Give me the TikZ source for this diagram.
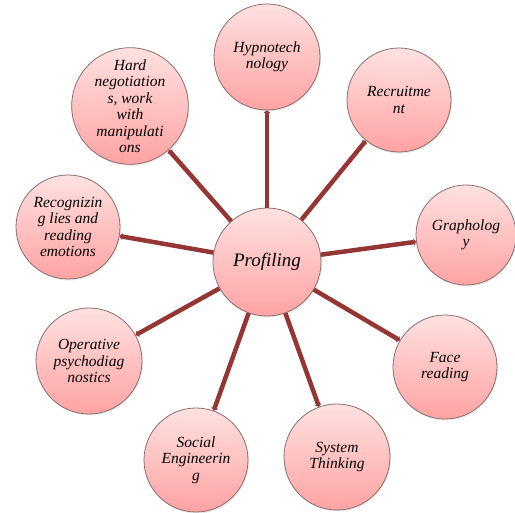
\documentclass[tikz,border=0pt]{standalone}
\usepackage{fontspec}
\setmainfont{Liberation Serif}
\usepackage{tikz}
\usetikzlibrary{arrows.meta,shadows}
\definecolor{spoke}{HTML}{943634}
\definecolor{rim}{HTML}{8A6E6E}
\definecolor{pinktop}{HTML}{FFE1E1}
\definecolor{pinkbot}{HTML}{FFA3A3}
\begin{document}
\begin{tikzpicture}[x=1pt,y=-1pt,
    bubble/.style={circle,draw=rim,line width=0.8pt,top color=pinktop,bottom color=pinkbot,
        drop shadow={opacity=0.18,shadow xshift=1pt,shadow yshift=-1.5pt},
        inner sep=0pt,minimum size=104pt,align=center,
        font=\fontsize{15.5}{16.5}\selectfont\itshape},
    hub/.style={bubble,minimum size=108pt,font=\fontsize{19}{22}\selectfont\itshape},
    link/.style={spoke,line width=4.5pt,-{Triangle[width=7pt,length=2.5pt]}}]
    \useasboundingbox (0,0) rectangle (515,513);
    \node[hub] (prof) at (267,262) {Profiling};
    \node[bubble,minimum size=106pt] (hyp) at (267,57) {Hypnotech\\nology};
    \node[bubble] (rec) at (399,100) {Recruitme\\nt};
    \node[bubble,minimum size=100pt] (gra) at (466,235) {Grapholog\\y};
    \node[bubble] (face) at (445,367) {Face\\reading};
    \node[bubble,minimum size=106pt] (sys) at (337,457) {System\\Thinking};
    \node[bubble] (soc) at (196,460) {Social\\Engineerin\\g};
    \node[bubble,minimum size=106pt] (oper) at (89,361) {Operative\\psychodiag\\nostics};
    \node[bubble] (lies) at (68,227) {Recognizin\\g lies and\\reading\\emotions};
    \node[bubble,minimum size=104pt] (hard) at (130,106) {Hard\\negotiation\\s, work\\with\\manipulati\\ons};
    \foreach \t in {hyp,rec,gra,face,sys,soc,oper,lies,hard}
        \draw[link] (prof) -- (\t);
\end{tikzpicture}
\end{document}
